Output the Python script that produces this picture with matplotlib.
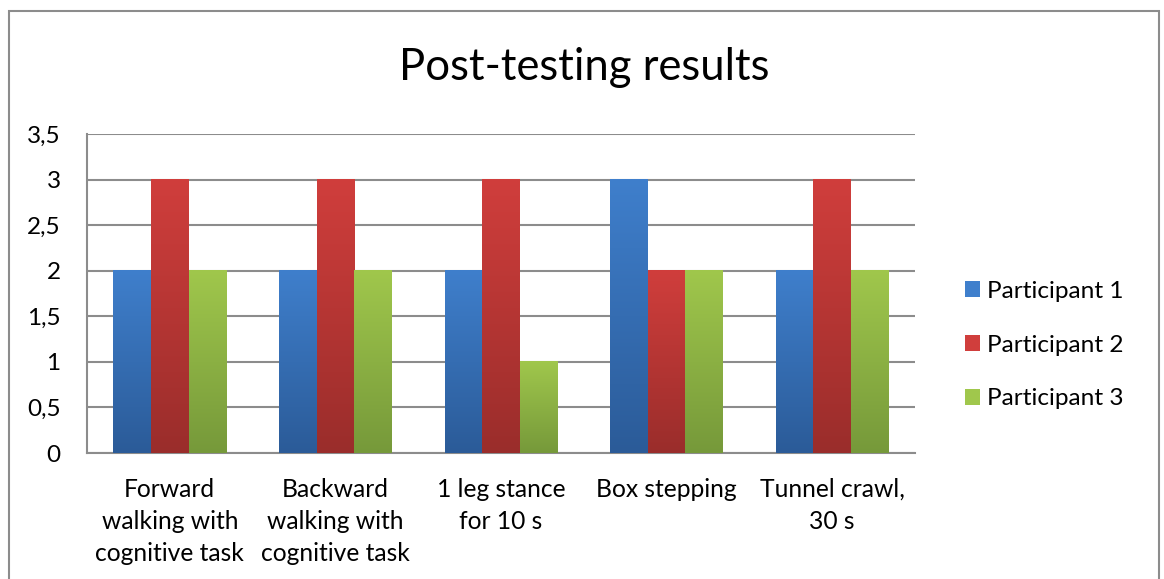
import matplotlib.pyplot as plt
import numpy as np
from matplotlib.patches import Rectangle
from matplotlib.colors import LinearSegmentedColormap

plt.rcParams['font.family'] = ['Lato', 'DejaVu Sans']

categories = ["Forward\nwalking with\ncognitive task",
              "Backward\nwalking with\ncognitive task",
              "1 leg stance\nfor 10 s",
              "Box stepping",
              "Tunnel crawl,\n30 s"]
participant1 = [2, 2, 2, 3, 2]
participant2 = [3, 3, 3, 2, 3]
participant3 = [2, 2, 1, 2, 2]
series_names = ["Participant 1", "Participant 2", "Participant 3"]
yticks = [0, 0.5, 1, 1.5, 2, 2.5, 3, 3.5]

# top/bottom colours of the gradient for each series
grads = [("#3f7fcc", "#2b5b98"), ("#d03e3c", "#9a2d2b"), ("#a0c74c", "#76993a")]

fig = plt.figure(figsize=(11.64, 5.79), dpi=100)
ax = fig.add_axes([87 / 1164, 1 - 453 / 579, (915 - 87) / 1164, (453 - 134) / 579])

# outer chart frame
fig.patches.append(Rectangle((9 / 1164, -0.05), (1159 - 9) / 1164, 1.05 - 11 / 579,
                             transform=fig.transFigure, fill=False,
                             edgecolor="#8c8c8c", linewidth=1.5))

x = np.arange(len(categories))
w = 0.227
data = [participant1, participant2, participant3]
grad = np.linspace(0, 1, 256).reshape(-1, 1)
for i, (vals, name) in enumerate(zip(data, series_names)):
    top, bot = grads[i]
    cmap = LinearSegmentedColormap.from_list("g%d" % i, [bot, top])
    bars = ax.bar(x + (i - 1) * w, vals, w, color=top, label=name, zorder=2)
    for b in bars:
        bx, by = b.get_x(), b.get_y()
        bw, bh = b.get_width(), b.get_height()
        ax.imshow(grad, cmap=cmap, origin="lower", aspect="auto",
                  extent=(bx, bx + bw, by, by + bh), zorder=3)
ax.set_xlim(-0.5, len(categories) - 0.5)
ax.set_ylim(0, 3.5)
ax.set_yticks(yticks)
ax.set_yticklabels([("%g" % v).replace(".", ",") for v in yticks], fontsize=17.5)
ax.set_xticks(x)
ax.set_xticklabels(categories, fontsize=17.7, linespacing=1.47)
ax.tick_params(length=0)
ax.tick_params(axis="y", pad=19)
ax.tick_params(axis="x", pad=18)
ax.yaxis.grid(True, color="#8c8c8c", linewidth=1.5, zorder=0)
ax.set_axisbelow(True)
for s in ["top", "right"]:
    ax.spines[s].set_visible(False)
for s in ["left", "bottom"]:
    ax.spines[s].set_color("#8c8c8c")
    ax.spines[s].set_linewidth(1.5)

handles, labels = ax.get_legend_handles_labels()
fig.legend(handles, labels, loc="center left", bbox_to_anchor=(965 / 1164, 1 - 345 / 579),
           frameon=False, fontsize=17.6, labelspacing=1.34, handlelength=0.62,
           handleheight=0.62, handletextpad=0.3, borderpad=0, borderaxespad=0)

fig.text(584 / 1164, 1 - 68 / 579, "Post-testing results", ha="center", va="center",
         fontsize=31.4)

fig.savefig("out.png", dpi=100)
